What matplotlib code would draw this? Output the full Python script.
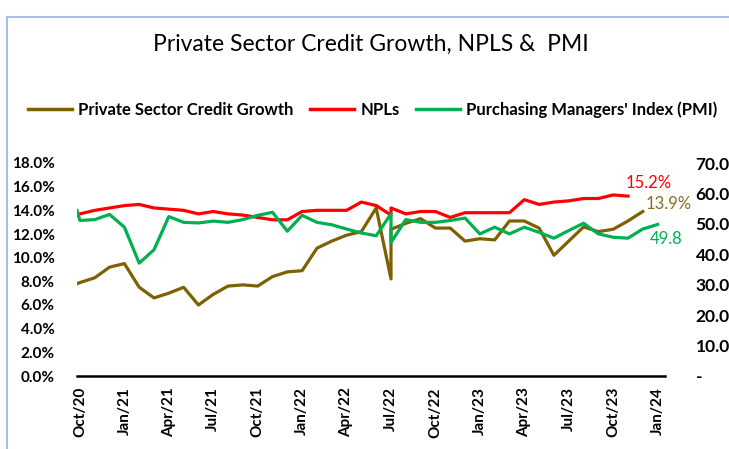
import numpy as np
import matplotlib
matplotlib.use("Agg")
import matplotlib.pyplot as plt
from matplotlib.lines import Line2D

# month offset from Oct/20 (first reading slightly earlier, two readings at Jul/22)
months = [-0.2, 0, 1, 2, 3, 4, 5, 6, 7, 8, 9, 10, 11, 12, 13, 14, 15, 16, 17, 18, 19, 20,
          21, 21, 22, 23, 24, 25, 26, 27, 28, 29, 30, 31, 32, 33, 34, 35, 36, 37, 38, 39]

nan = np.nan
credit = [7.8, 7.9, 8.3, 9.2, 9.5, 7.5, 6.6, 7.0, 7.5, 6.0, 6.9, 7.6, 7.7, 7.6, 8.4, 8.8, 8.9,
          10.8, 11.4, 11.9, 12.2, 14.2, 8.2, 12.4, 12.9, 13.3, 12.5, 12.5, 11.4, 11.6, 11.5,
          13.1, 13.1, 12.5, 10.2, 11.4, 12.6, 12.2, 12.4, 13.1, 13.9, nan]
npl = [13.6, 13.7, 14.0, 14.2, 14.4, 14.5, 14.2, 14.1, 14.0, 13.7, 13.9, 13.7, 13.6, 13.4,
       13.2, 13.2, 13.9, 14.0, 14.0, 14.0, 14.7, 14.4, 13.6, 14.2, 13.7, 13.9, 13.9, 13.4,
       13.8, 13.8, 13.8, 13.8, 14.9, 14.5, 14.7, 14.8, 15.0, 15.0, 15.3, 15.2, nan, nan]
pmi = [54.4, 51.1, 51.4, 53.1, 48.9, 37.1, 41.5, 52.4, 50.5, 50.3, 50.9, 50.5, 51.4, 52.8,
       53.8, 47.6, 52.8, 50.5, 49.7, 48.3, 47.0, 46.1, 53.3, 43.9, 51.4, 50.5, 50.5, 51.1,
       51.9, 46.7, 48.9, 46.7, 48.9, 47.2, 45.3, 47.8, 50.2, 46.7, 45.6, 45.3, 48.3, 49.8]

tick_pos = [0, 3, 6, 9, 12, 15, 18, 21, 24, 27, 30, 33, 36, 39]
tick_labels = ["Oct/20", "Jan/21", "Apr/21", "Jul/21", "Oct/21", "Jan/22", "Apr/22",
               "Jul/22", "Oct/22", "Jan/23", "Apr/23", "Jul/23", "Oct/23", "Jan/24"]

BROWN = "#7F6000"
RED = "#FF0000"
GREEN = "#00B050"
FONT = "Lato"

plt.rcParams["font.family"] = FONT

fig = plt.figure(figsize=(7.29, 4.49), dpi=100)
ax = fig.add_axes([77 / 729, 1 - 376 / 449, 588 / 729, 213 / 449])
ax2 = ax.twinx()

ax.plot(months, credit, color=BROWN, lw=2.3, label="Private Sector Credit Growth")
ax.plot(months, npl, color=RED, lw=2.3, label="NPLs")
ax2.plot(months, pmi, color=GREEN, lw=2.3, label="Purchasing Managers' Index (PMI)")

ax.set_xlim(-0.2, 39.5)
ax.set_ylim(0, 18)
ax2.set_ylim(0, 70)

ax.set_yticks(np.arange(0, 19, 2))
ax.set_yticklabels([f"{v:.1f}%" for v in np.arange(0, 19, 2)], fontweight="bold", fontsize=11)
ax2.set_yticks(np.arange(0, 71, 10))
ax2.set_yticklabels(["-" if v == 0 else f"{v:.1f}" for v in np.arange(0, 71, 10)],
                    fontweight="bold", fontsize=12.5)
ax.set_xticks(tick_pos)
ax.set_xticklabels(tick_labels, rotation=90, fontweight="bold", fontsize=11)

ax.tick_params(axis="y", length=0, pad=16)
ax.tick_params(axis="x", length=0, pad=8)
ax2.tick_params(axis="y", length=0, pad=22)

for a in (ax, ax2):
    for side in ("left", "right", "top"):
        a.spines[side].set_visible(False)
ax2.spines["bottom"].set_visible(False)
ax.spines["bottom"].set_linewidth(1.8)
ax.spines["bottom"].set_color("black")

# end-of-series labels
last_c = [(m, v) for m, v in zip(months, credit) if not np.isnan(v)][-1]
last_n = [(m, v) for m, v in zip(months, npl) if not np.isnan(v)][-1]
last_p = (months[-1], pmi[-1])
ax.annotate(f"{last_n[1]:.1f}%", last_n, xytext=(21, 13), textcoords="offset pixels",
            color=RED, fontsize=12, ha="center", va="center")
ax.annotate(f"{last_c[1]:.1f}%", last_c, xytext=(26, 8), textcoords="offset pixels",
            color="#8A6D1E", fontsize=12, ha="center", va="center")
ax2.annotate(f"{last_p[1]:.1f}", last_p, xytext=(9, -15), textcoords="offset pixels",
             color=GREEN, fontsize=12, ha="center", va="center")

fig.text(371 / 729, 1 - 44 / 449, "Private Sector Credit Growth, NPLS &  PMI",
         ha="center", va="center", fontsize=16.5)

handles = [Line2D([], [], color=BROWN, lw=2.5), Line2D([], [], color=RED, lw=2.5),
           Line2D([], [], color=GREEN, lw=2.5)]
labels = ["Private Sector Credit Growth", "NPLs", "Purchasing Managers' Index (PMI)"]
fig.legend(handles, labels, loc="center", bbox_to_anchor=(373 / 729, 1 - 110 / 449),
           ncol=3, frameon=False, handlelength=2.6, handletextpad=0.4,
           columnspacing=1.0, prop={"family": FONT, "size": 12, "weight": "bold"})

# chart frame edges visible in the screenshot
fig.add_artist(Line2D([7 / 729, 1], [1 - 17 / 449, 1 - 17 / 449], color="#A9BFE6", lw=1.5))
fig.add_artist(Line2D([7 / 729, 7 / 729], [0, 1 - 17 / 449], color="#A9BFE6", lw=1.5))

fig.savefig("out.png", dpi=100)
